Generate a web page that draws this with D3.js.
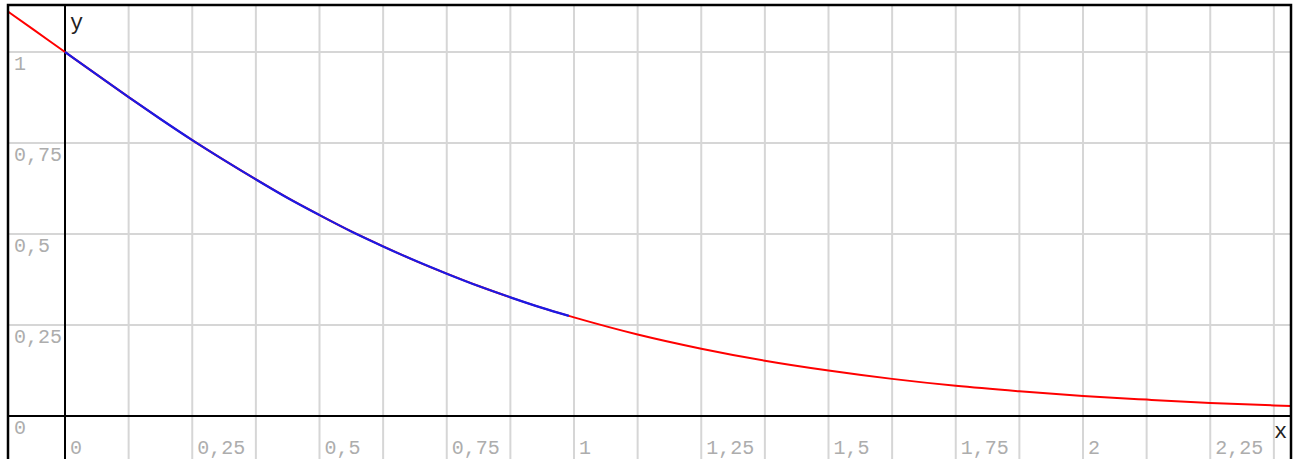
<!DOCTYPE html>
<html>
<head>
<meta charset="utf-8">
<script src="https://cdn.jsdelivr.net/npm/d3@7"></script>
<style>
  html, body { margin: 0; padding: 0; background: #fff; }
  svg { display: block; }
</style>
</head>
<body>
<svg id="chart" width="1295" height="459"></svg>
<script>
// Sampled curve values y(x)
const curveX = [-0.125, -0.0625, 0, 0.0625, 0.125, 0.1875, 0.25, 0.3125, 0.375, 0.4375, 0.5,
  0.5625, 0.625, 0.6875, 0.75, 0.8125, 0.875, 0.9375, 1, 1.125, 1.25, 1.375, 1.5, 1.625,
  1.75, 1.875, 2, 2.125, 2.25, 2.375, 2.42];
const curveY = [1.124, 1.062, 1.0, 0.938, 0.876, 0.816, 0.758, 0.703, 0.650, 0.599, 0.552,
  0.507, 0.466, 0.427, 0.391, 0.357, 0.326, 0.297, 0.271, 0.224, 0.185, 0.152, 0.125, 0.102,
  0.083, 0.068, 0.055, 0.045, 0.036, 0.029, 0.027];

// Approximation drawn over the interval [0, 1]
const approxX = [0, 0.0625, 0.125, 0.1875, 0.25, 0.3125, 0.375, 0.4375, 0.5, 0.5625, 0.625,
  0.6875, 0.75, 0.8125, 0.875, 0.9375, 0.99];
const approxY = [1.0, 0.938, 0.876, 0.816, 0.758, 0.703, 0.650, 0.599, 0.552, 0.507, 0.466,
  0.427, 0.391, 0.357, 0.326, 0.297, 0.275];

const xTicks = [0, 0.25, 0.5, 0.75, 1, 1.25, 1.5, 1.75, 2, 2.25];
const xTickLabels = ["0", "0,25", "0,5", "0,75", "1", "1,25", "1,5", "1,75", "2", "2,25"];
const yTicks = [0, 0.25, 0.5, 0.75, 1];
const yTickLabels = ["0", "0,25", "0,5", "0,75", "1"];
const xGrid = d3.range(-0.125, 2.4, 0.125);

const frame = { left: 8, top: 5, right: 1291, bottom: 470 };

const x = d3.scaleLinear().domain([0, 1]).range([65, 574]);
const y = d3.scaleLinear().domain([0, 1]).range([416, 52]);

const svg = d3.select("#chart");

svg.append("defs").append("clipPath").attr("id", "plot-clip")
  .append("rect")
  .attr("x", frame.left).attr("y", frame.top)
  .attr("width", frame.right - frame.left).attr("height", frame.bottom - frame.top);

const plot = svg.append("g").attr("clip-path", "url(#plot-clip)");

// grid
plot.append("g").selectAll("line").data(xGrid).join("line")
  .attr("x1", d => x(d)).attr("x2", d => x(d))
  .attr("y1", frame.top).attr("y2", frame.bottom)
  .attr("stroke", "#d6d6d6").attr("stroke-width", 2);

plot.append("g").selectAll("line").data(yTicks.filter(d => d !== 0)).join("line")
  .attr("x1", frame.left).attr("x2", frame.right)
  .attr("y1", d => y(d)).attr("y2", d => y(d))
  .attr("stroke", "#d6d6d6").attr("stroke-width", 2);

// axes
plot.append("line")
  .attr("x1", frame.left).attr("x2", frame.right)
  .attr("y1", y(0)).attr("y2", y(0))
  .attr("stroke", "#000").attr("stroke-width", 2);
plot.append("line")
  .attr("x1", x(0)).attr("x2", x(0))
  .attr("y1", frame.top).attr("y2", frame.bottom)
  .attr("stroke", "#000").attr("stroke-width", 2);

// tick labels
const labelFont = "'Liberation Mono', 'Courier New', monospace";
plot.append("g").selectAll("text").data(yTicks).join("text")
  .attr("x", 14)
  .attr("y", d => y(d) + 18)
  .attr("font-family", labelFont).attr("font-size", 20)
  .attr("fill", "#adadad")
  .text((d, i) => yTickLabels[i]);

plot.append("g").selectAll("text").data(xTicks).join("text")
  .attr("x", d => x(d) + 5)
  .attr("y", 454)
  .attr("font-family", labelFont).attr("font-size", 20)
  .attr("fill", "#adadad")
  .text((d, i) => xTickLabels[i]);

// axis names
plot.append("text").attr("x", 70).attr("y", 29)
  .attr("font-family", labelFont).attr("font-size", 22).attr("fill", "#222")
  .text("y");
plot.append("text").attr("x", 1274).attr("y", 438)
  .attr("font-family", labelFont).attr("font-size", 22).attr("fill", "#222")
  .text("x");

// curves
const line = d3.line().x(d => x(d[0])).y(d => y(d[1])).curve(d3.curveMonotoneX);

plot.append("path")
  .datum(d3.zip(curveX, curveY))
  .attr("d", line)
  .attr("fill", "none").attr("stroke", "#ff0000").attr("stroke-width", 2);

plot.append("path")
  .datum(d3.zip(approxX, approxY))
  .attr("d", line)
  .attr("fill", "none").attr("stroke", "#1a1ae6").attr("stroke-width", 2.2);

// frame
svg.append("rect")
  .attr("x", frame.left).attr("y", frame.top)
  .attr("width", frame.right - frame.left).attr("height", frame.bottom - frame.top)
  .attr("fill", "none").attr("stroke", "#000").attr("stroke-width", 2.5);
</script>
</body>
</html>
